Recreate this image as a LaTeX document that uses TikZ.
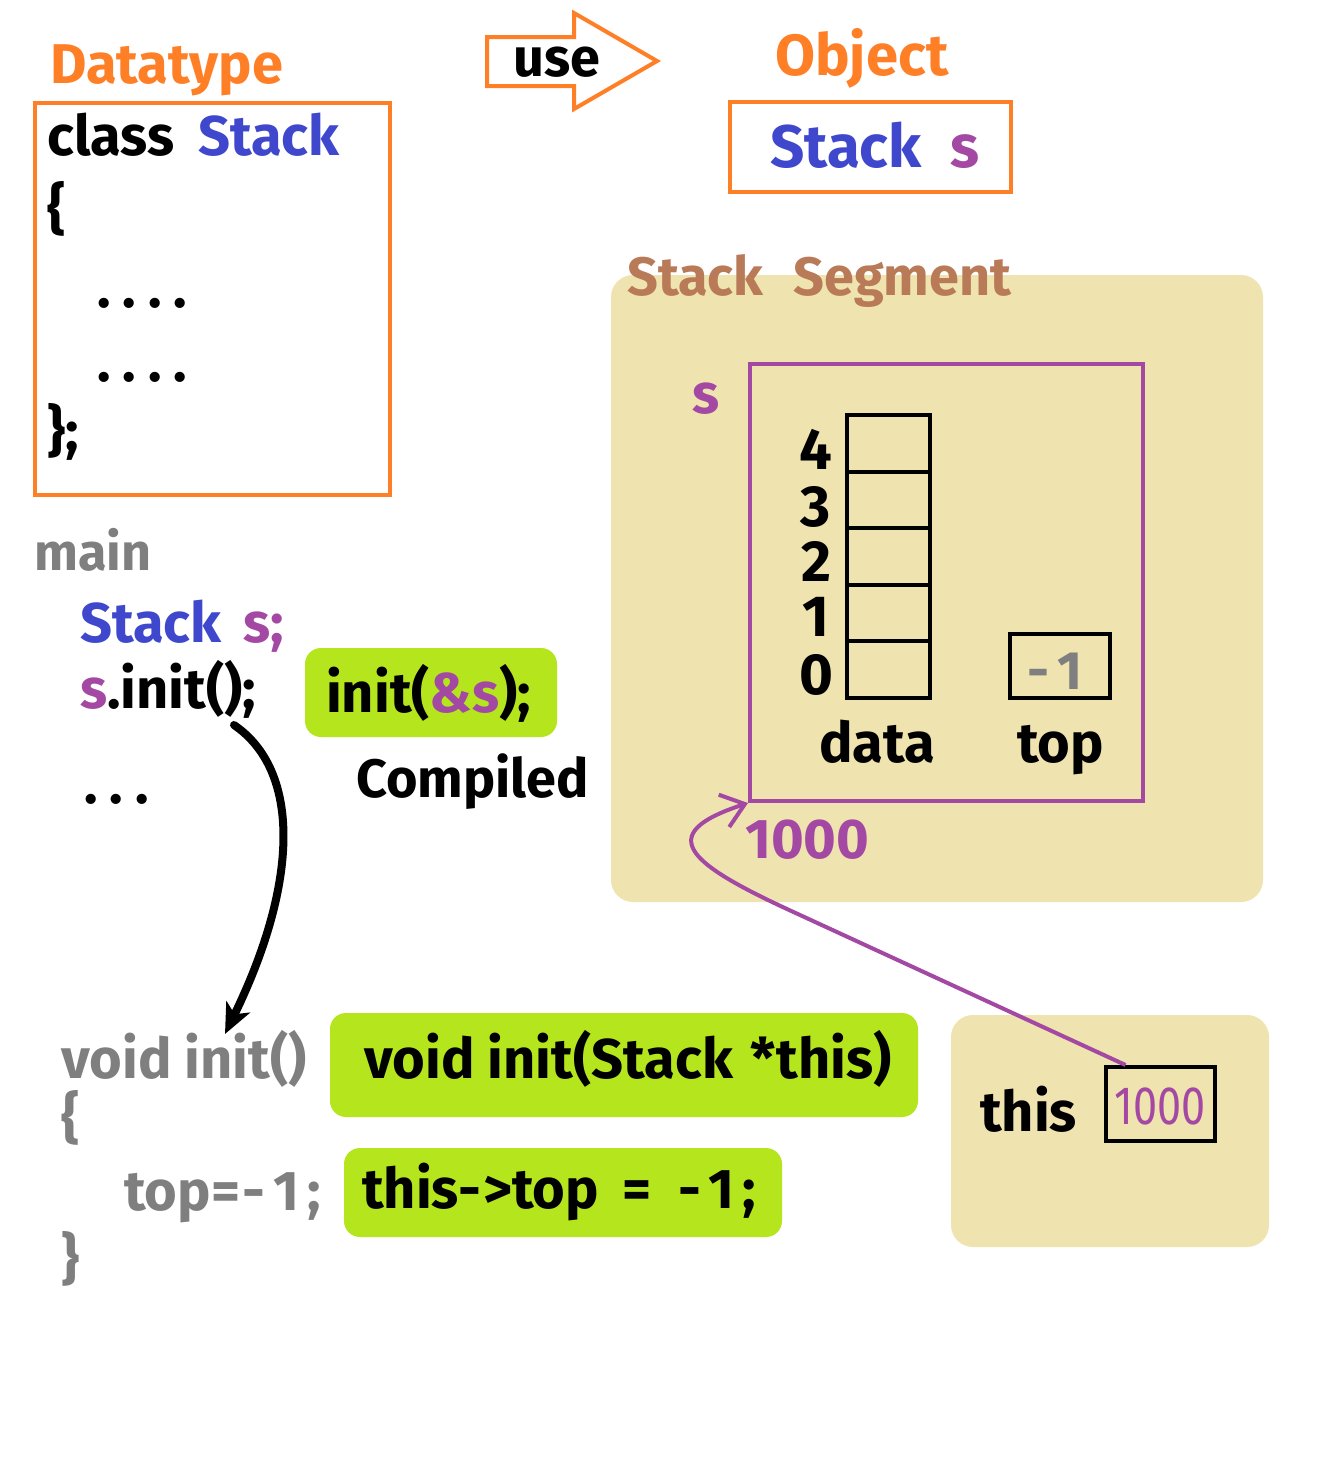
\documentclass[tikz,border=0pt]{standalone}
\usepackage{fontspec}
\setmainfont{Fira Sans}
\usetikzlibrary{arrows.meta}
\definecolor{corange}{HTML}{FF7F27}
\definecolor{cblue}{HTML}{3F48CC}
\definecolor{cpurple}{HTML}{A349A4}
\definecolor{ctan}{HTML}{EFE4B0}
\definecolor{clime}{HTML}{B5E61D}
\definecolor{cbrown}{HTML}{B97A57}
\definecolor{cgray}{HTML}{7F7F7F}
\newcommand\fsz[1]{\fontsize{#1}{#1}\selectfont}
\tikzset{
  txt/.style={inner sep=0pt, anchor=base west, font=\bfseries\fsz{56}},
  ctxt/.style={inner sep=0pt, anchor=base, font=\bfseries\fsz{56}},
  obox/.style={draw=corange, line width=4pt, inner sep=0pt, rectangle},
  bbox/.style={draw=black, line width=4pt, inner sep=0pt, rectangle},
  tanbox/.style={fill=ctan, rounded corners=22pt, inner sep=0pt, rectangle},
  limebox/.style={fill=clime, rounded corners=16pt, inner sep=0pt, rectangle},
  cell/.style={draw=black, line width=4pt, inner sep=0pt, minimum width=83pt, minimum height=56.6pt},
}
\begin{document}
\begin{tikzpicture}[x=1pt,y=-1pt]
\fill[white] (0,0) rectangle (1340,1459);
\useasboundingbox (0,0) rectangle (1340,1459);

% ---- Datatype
\node[txt, text=corange, font=\bfseries\fsz{56}] (dtype) at (50,83) {Datatype};
\node[obox, minimum width=355pt, minimum height=392pt] (classbox) at (212.5,299) {};
\node[txt] (cls) at (47,155) {class\kern24pt\textcolor{cblue}{Stack}};
\node[txt] (ob) at (47,228) {\{};
\node[txt] (dots1) at (97,307) {.\kern12pt.\kern12pt.\kern12pt.};
\node[txt] (dots2) at (97,381) {.\kern12pt.\kern12pt.\kern12pt.};
\node[txt] (cb) at (47,450) {\};};

% ---- use arrow
\draw[draw=corange, line width=4pt, line join=miter]
  (487,37) -- (574,37) -- (574,13) -- (657,61) -- (574,109) -- (574,86) -- (487,86) -- cycle;
\node[txt, font=\bfseries\fsz{54}] (use) at (513,76) {use};

% ---- Object
\node[txt, text=corange, font=\bfseries\fsz{58}] (objt) at (775,75) {Object};
\node[obox, minimum width=281pt, minimum height=90pt] (objbox) at (870.5,147) {};
\node[txt, text=cblue, font=\bfseries\fsz{60}] (objS) at (770,167) {Stack};
\node[txt, text=cpurple, font=\bfseries\fsz{60}] (objs) at (950,167) {s};

% ---- Stack segment
\node[tanbox, minimum width=652pt, minimum height=627pt] (seg) at (937,588.5) {};
\node[txt, text=cbrown, font=\bfseries\fsz{54}] (segt) at (627,295) {Stack\kern30pt Segment};
\node[txt, text=cpurple] (sname) at (692,413) {s};
\node[draw=cpurple, line width=4pt, inner sep=0pt, minimum width=393pt, minimum height=437pt] (sobj) at (946.5,582.5) {};
\node[cell] (c4) at (888.5,443.3) {};
\node[cell] (c3) at (888.5,499.9) {};
\node[cell] (c2) at (888.5,556.5) {};
\node[cell] (c1) at (888.5,613.1) {};
\node[cell] (c0) at (888.5,669.7) {};
\node[ctxt, font=\bfseries\fsz{58}] (i4) at (816,469) {4};
\node[ctxt, font=\bfseries\fsz{58}] (i3) at (816,526) {3};
\node[ctxt, font=\bfseries\fsz{58}] (i2) at (816,581) {2};
\node[ctxt, font=\bfseries\fsz{58}] (i1) at (816,636) {1};
\node[ctxt, font=\bfseries\fsz{58}] (i0) at (816,694) {0};
\node[txt] (data) at (819,762) {data};
\node[txt] (top) at (1017,762) {top};
\node[bbox, minimum width=100pt, minimum height=64pt] (topbox) at (1060,666) {};
\node[ctxt, text=cgray, font=\bfseries\fsz{54}] (topval) at (1055,689) {-\kern8pt1};
\node[txt, text=cpurple, font=\bfseries\fsz{56}] (addr) at (745,858) {1000};

% ---- main
\node[txt, text=cgray, font=\bfseries\fsz{52}] (main) at (34,570) {main};
\node[txt, text=cblue] (decl) at (80,642) {Stack\kern22pt\textcolor{cpurple}{s;}};
\node[txt] (sinit) at (80,708) {\textcolor{cpurple}{s}.init();};
\node[limebox, minimum width=252pt, minimum height=89pt] (g1) at (431,692.5) {};
\node[txt] (g1t) at (326,712) {init(\textcolor{cpurple}{\&s});};
\node[txt, font=\bfseries\fsz{54}] (comp) at (356,797) {Compiled};
\node[txt] (dots3) at (84,803) {.\kern12pt.\kern12pt.};

% ---- init function
\node[txt, text=cgray] (vinit) at (61,1078) {void init()};
\node[txt, text=cgray] (fob) at (61,1137) {\{};
\node[txt, text=cgray] (ftop) at (124,1210) {top=\kern3pt-\kern8pt1\kern8pt;};
\node[txt, text=cgray] (fcb) at (61,1278) {\}};
\node[limebox, minimum width=588pt, minimum height=104pt] (g2) at (624,1065) {};
\node[txt] (g2t) at (364,1078) {void init(Stack\kern18pt*this)};
\node[limebox, minimum width=438pt, minimum height=89pt] (g3) at (563,1192.5) {};
\node[txt] (g3t) at (362,1208) {this-\kern2pt>top\kern24pt=\kern26pt-\kern8pt1\kern8pt;};

% ---- this box
\node[tanbox, minimum width=318pt, minimum height=232pt] (thisseg) at (1110,1131) {};
\node[txt] (thist) at (980,1131) {this};
\node[bbox, minimum width=109pt, minimum height=74pt] (thisval) at (1160.5,1104) {};
\node[anchor=base, inner sep=0pt, text=cpurple, font=\fsz{54}] (thisnum) at (1160,1124) {\scalebox{0.8}[1]{1000}};

% ---- connectors
\coordinate (cstart) at (234,725);
\coordinate (cend) at (225,1034);
\draw[line width=8pt, line cap=round, -{Stealth[length=30pt,width=26pt,inset=8pt]}]
  (cstart) .. controls (300,770) and (300,880) .. (cend);
\draw[cpurple, line width=4pt, -{Straight Barb[length=22pt,width=34pt,line width=4pt]}]
  ([xshift=-35pt]thisval.north) -- (800,915) .. controls (690,865) and (650,835) .. (sobj.south west);
\end{tikzpicture}
\end{document}
